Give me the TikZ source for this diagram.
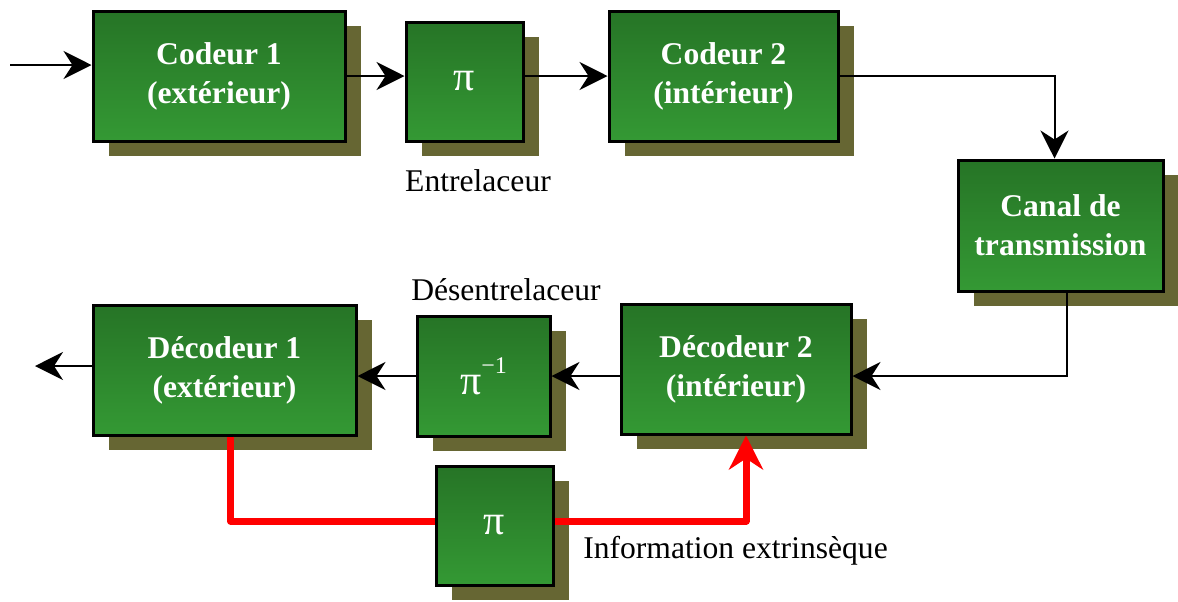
\documentclass[tikz,border=0pt]{standalone}
\usepackage{fontspec}
\setmainfont{Liberation Serif}
\usetikzlibrary{arrows.meta,shadows,positioning}
\definecolor{boxtop}{RGB}{38,116,38}
\definecolor{boxbottom}{RGB}{52,153,52}
\definecolor{shadowolive}{RGB}{102,102,51}
\newcommand{\diagfont}{\fontsize{15.8}{19.5}\selectfont}
\newcommand{\permfont}{\fontsize{21}{24}\selectfont}
\newcommand{\invexp}{\raisebox{0.5em}{\fontsize{12}{12}\selectfont −1}}
\tikzset{
  every picture/.style={
    line width=1pt
  },
  block/.style={
    draw=black, line width=1.5pt,
    top color=boxtop, bottom color=boxbottom,
    text=white, font=\diagfont\bfseries, align=center, inner sep=0pt,
    drop shadow={shadow xshift=8pt, shadow yshift=-7.5pt, fill=shadowolive, opacity=1}
  },
  permbox/.style={block, font=\permfont},
  boxlabel/.style={font=\diagfont, inner sep=0pt},
  link/.style={-{Stealth[length=14pt, width=14pt, inset=4.5pt]}},
  feedback/.style={draw=red, line width=3.5pt, line join=round}
}
\begin{document}
\begin{tikzpicture}[x=0.5pt, y=-0.5pt]
  \useasboundingbox (0,0) rectangle (1178,601);

  % coding chain
  \node[block, minimum width=126pt, minimum height=65pt] (cod1) at (219,76) {Codeur 1\\(extérieur)};
  \node[permbox, minimum width=58.5pt, minimum height=59.5pt] (pi1) at (464.5,81.5) {π};
  \node[block, minimum width=114.5pt, minimum height=65pt] (cod2) at (723.5,76) {Codeur 2\\(intérieur)};
  \node[block, minimum width=102.5pt, minimum height=65.5pt] (canal) at (1060.5,225.5) {Canal de\\transmission};

  % decoding chain
  \node[block, minimum width=115pt, minimum height=65pt] (dec2) at (736,369) {Décodeur 2\\(intérieur)};
  \node[permbox, minimum width=66.5pt, minimum height=60pt] (piinv) at (483.5,376) {π\invexp};
  \node[block, minimum width=131.5pt, minimum height=65pt] (dec1) at (224.5,370) {Décodeur 1\\(extérieur)};
  \node[permbox, minimum width=58.5pt, minimum height=59.5pt] (pi2) at (494.5,525.5) {π};

  \node[boxlabel] (entlab) at (478,181) {Entrelaceur};
  \node[boxlabel] (desentlab) at (506,290) {Désentrelaceur};
  \node[boxlabel] (extlab) at (735.5,551) {Information extrinsèque};

  \coordinate (in) at (10,65);
  \coordinate (out) at (35,366);

  \draw[link] (in) -- (in -| cod1.west);
  \draw[link] (cod1.east) -- (cod1.east -| pi1.west);
  \draw[link] (pi1.east |- cod2.west) -- (cod2.west);
  \draw[link] (cod2.east) -| ([xshift=-3pt]canal.north);
  \draw[link] ([xshift=3pt]canal.south) |- ([yshift=-3.5pt]dec2.east);
  \draw[link] (dec2.west |- piinv.east) -- (piinv.east);
  \draw[link] (piinv.west) -- (piinv.west -| dec1.east);
  \draw[link] (dec1.west |- out) -- (out);

  % extrinsic information loop
  \draw[feedback] ([xshift=3pt]dec1.south) |- ([yshift=2.25pt]pi2.west);
  \draw[feedback, -{Stealth[length=17pt, width=17pt, inset=5.5pt]}] ([yshift=2.25pt]pi2.east) -| ([xshift=5pt]dec2.south);
\end{tikzpicture}
\end{document}
